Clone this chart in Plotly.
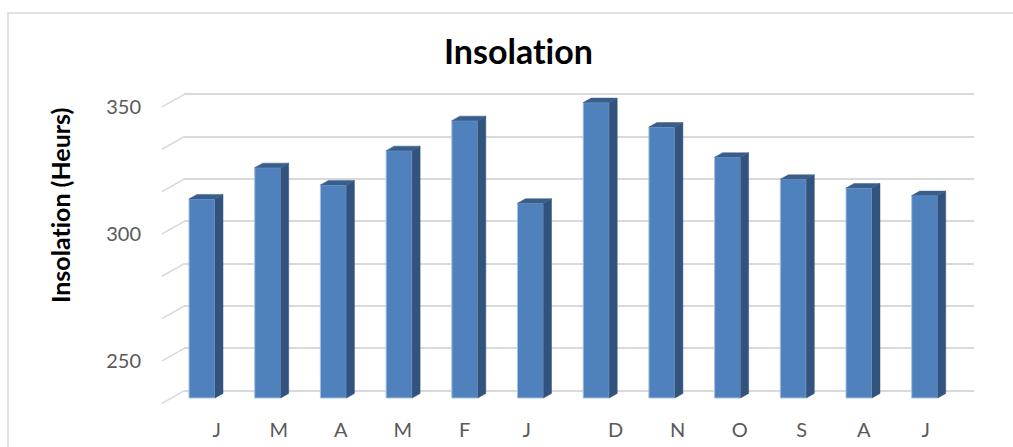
import plotly.graph_objects as go

# Monthly sunshine hours
months = ["J", "M", "A", "M", "F", "J", "D", "N", "O", "S", "A", "J"]
insolation = [311.7, 324.0, 317.2, 330.7, 342.5, 310.0, 349.6, 340.0, 328.1, 319.4, 316.0, 313.0]

y_tick_values = [250, 300, 350]
grid_step = 50 / 3
floor_value = 250 - grid_step

W, H = 1013, 447
FONT = "Lato"

# page geometry (pixels)
bar0_px = 202.0        # centre of first bar's front face
step_px = 65.7         # distance between bars
plot_left, plot_right = 162.0, 974.0
wall_left = 184.3
dom_top, dom_bottom = 60.0, 410.0
k = 2.5406             # pixels per hour
floor_bar_px = 398.0   # floor under the bars
floor_wall_px = 390.7  # floor along the back wall
floor_front_px = 403.3 # floor at the front edge
bar_w = 26 / step_px
depth_dx = 8 / step_px
depth_dy = 4.5 / k

FRONT = "#4F81BD"
SIDE = "#32537E"
TOP = "#3A5E8C"
GRID = "#D9D9D9"
TXT = "#595959"


def fx(px):
    return px / W


def fy(py):
    return 1 - py / H


def y_range(floor_px):
    return [floor_value + (floor_px - dom_bottom) / k, floor_value + (floor_px - dom_top) / k]


def x_range():
    return [(plot_left - bar0_px) / step_px, (plot_right - bar0_px) / step_px]


idx = list(range(len(months)))
fig = go.Figure()

# front faces
fig.add_trace(go.Bar(
    x=idx, y=[v - floor_value for v in insolation], base=floor_value,
    width=bar_w, marker=dict(color=FRONT, line=dict(color="#A8C1E0", width=1)),
    xaxis="x2", yaxis="y2", hoverinfo="skip", showlegend=False,
))

# side and top faces
for i, v in zip(idx, insolation):
    xl, xr = i - bar_w / 2, i + bar_w / 2
    fig.add_trace(go.Scatter(
        x=[xr, xr, xr + depth_dx, xr + depth_dx, xr],
        y=[floor_value, v, v + depth_dy, floor_value + depth_dy, floor_value],
        fill="toself", fillcolor=SIDE, mode="lines", line=dict(color=SIDE, width=0.5),
        xaxis="x2", yaxis="y2", hoverinfo="skip", showlegend=False,
    ))
    fig.add_trace(go.Scatter(
        x=[xl, xr, xr + depth_dx, xl + depth_dx, xl],
        y=[v, v, v + depth_dy, v + depth_dy, v],
        fill="toself", fillcolor=TOP, mode="lines", line=dict(color=TOP, width=0.5),
        xaxis="x2", yaxis="y2", hoverinfo="skip", showlegend=False,
    ))

# invisible carrier so the front-edge value axis is drawn
fig.add_trace(go.Scatter(
    x=[idx[0]], y=[y_tick_values[0]], mode="markers", marker=dict(opacity=0),
    xaxis="x2", yaxis="y3", hoverinfo="skip", showlegend=False,
))

# category labels sit slightly compressed under the bars, in two halves
label0_px = 216.7
label_step_px = 62.0
half_gap = 0.435
label_px = [label0_px + label_step_px * (i + (half_gap if i >= 6 else 0)) for i in idx]
label_vals = [(p - bar0_px) / step_px for p in label_px]

# diagonal gridline segments on the left side wall
shapes = []
n_lines = int(round((350 - floor_value) / grid_step)) + 1
wall_shift = (floor_front_px - floor_wall_px) / k
for n in range(n_lines):
    g = floor_value + n * grid_step
    shapes.append(dict(
        type="line", xref="paper", yref="y",
        x0=fx(plot_left), y0=g - wall_shift, x1=fx(wall_left), y1=g,
        line=dict(color=GRID, width=1.5), layer="below",
    ))

# chart border
shapes.append(dict(
    type="rect", xref="paper", yref="paper",
    x0=fx(8), y0=-0.05, x1=1.05, y1=fy(13),
    line=dict(color=GRID, width=1.5), layer="below",
))

fig.update_layout(
    width=W, height=H,
    margin=dict(l=0, r=0, t=0, b=0),
    paper_bgcolor="white", plot_bgcolor="rgba(0,0,0,0)",
    font=dict(family=FONT, color=TXT),
    showlegend=False,
    shapes=shapes,
    # back wall with horizontal gridlines
    xaxis=dict(domain=[fx(wall_left), fx(plot_right)], range=[0, 1], visible=False, fixedrange=True),
    yaxis=dict(
        domain=[fy(dom_bottom), fy(dom_top)], range=y_range(floor_wall_px),
        tick0=floor_value, dtick=grid_step, showgrid=True, gridcolor=GRID, gridwidth=1.5,
        showticklabels=False, zeroline=False, showline=False, ticks="", fixedrange=True,
    ),
    # bars
    xaxis2=dict(
        domain=[fx(plot_left), fx(plot_right)], range=x_range(), anchor="y2",
        tickmode="array", tickvals=label_vals, ticktext=months,
        tickfont=dict(family=FONT, size=20, color=TXT), ticks="", ticklabelstandoff=6,
        showgrid=False, zeroline=False, showline=False, fixedrange=True,
    ),
    yaxis2=dict(
        domain=[fy(dom_bottom), fy(dom_top)], range=y_range(floor_bar_px), anchor="x2",
        showgrid=False, showticklabels=False, zeroline=False, showline=False, ticks="", fixedrange=True,
    ),
    # value labels along the front edge
    yaxis3=dict(
        overlaying="y2", anchor="x2", side="left", range=y_range(floor_front_px),
        tickmode="array", tickvals=y_tick_values, ticktext=[str(v) for v in y_tick_values],
        tickfont=dict(family=FONT, size=20, color=TXT), ticks="", ticklabelstandoff=20,
        showgrid=False, zeroline=False, showline=False, fixedrange=True,
    ),
    annotations=[
        dict(text="<b>Insolat\u200cion</b>", xref="paper", yref="paper", x=fx(518), y=fy(51),
             xanchor="center", yanchor="middle", showarrow=False,
             font=dict(family=FONT, size=34, color="#000000")),
        dict(text="<b>Insolat\u200cion (Heurs)</b>", xref="paper", yref="paper", x=fx(59.5), y=fy(205.5),
             xanchor="center", yanchor="middle", textangle=-90, showarrow=False,
             font=dict(family=FONT, size=25, color="#000000")),
    ],
)

fig.write_html("out.html")
